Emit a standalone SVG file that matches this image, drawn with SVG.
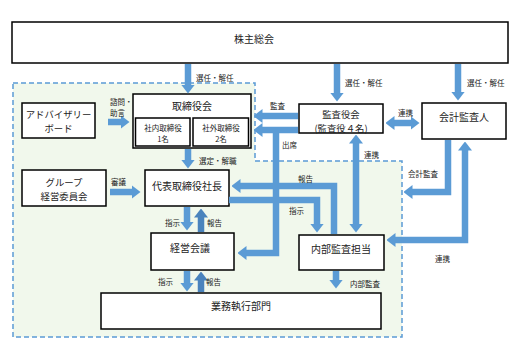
<svg xmlns="http://www.w3.org/2000/svg" width="529" height="353" viewBox="0 0 529 353">
<defs>
<style>
.box{fill:#fff;stroke:#000;stroke-width:1.5}
.t{font-family:"Noto Sans CJK JP","Noto Sans",sans-serif;font-size:10px;fill:#222;text-anchor:middle;dominant-baseline:central}
.m{font-size:9.4px}
.s{font-size:7.5px}
.l{font-family:"Noto Sans CJK JP","Noto Sans",sans-serif;font-size:7.5px;fill:#222;dominant-baseline:central}
.c{fill:none;stroke:#5b9bd5;stroke-width:6.5}
.d{stroke:#4a83bd}
.a{marker-end:url(#h)}
.b{marker-start:url(#h);marker-end:url(#h)}
.ad{marker-end:url(#hd)}
</style>
<marker id="h" viewBox="0 0 9 14" markerWidth="9" markerHeight="14" refX="0.5" refY="7" orient="auto-start-reverse" markerUnits="userSpaceOnUse"><path d="M0,0 L9,7 L0,14 z" fill="#5b9bd5"/></marker>
<marker id="hd" viewBox="0 0 9 14" markerWidth="9" markerHeight="14" refX="0.5" refY="7" orient="auto-start-reverse" markerUnits="userSpaceOnUse"><path d="M0,0 L9,7 L0,14 z" fill="#4a83bd"/></marker>
</defs>
<rect width="529" height="353" fill="#fff"/>
<path id="region" d="M13,83 H255 V161 H402 V337 H13 Z" fill="#f1f8ec" stroke="#5b9bd5" stroke-width="1.5" stroke-dasharray="5,3"/>

<g id="sh"><rect class="box" x="12" y="22" width="496" height="41"/><text class="t" x="254" y="38">株主総会</text></g>
<g id="adv"><rect class="box" x="22" y="103" width="73" height="35"/><text class="t m" x="58.5" y="114">アドバイザリー</text><text class="t m" x="58.5" y="128">ボード</text></g>
<g id="board"><rect class="box" x="133" y="94" width="118" height="54"/><text class="t" x="192" y="105">取締役会</text>
<rect class="box" x="135.5" y="118" width="54.5" height="28"/><text class="t s" x="163" y="127">社内取締役</text><text class="t s" x="163" y="138.5">1名</text>
<rect class="box" x="193" y="118" width="55.5" height="28"/><text class="t s" x="221" y="127">社外取締役</text><text class="t s" x="221" y="138.5">2名</text></g>
<g id="kansayaku"><rect class="box" x="299" y="104" width="84" height="29"/><text class="t m" x="341" y="114">監査役会</text><text class="t m" x="341" y="127.5">(監査役４名)</text></g>
<g id="kaikei"><rect class="box" x="422" y="103" width="84" height="36"/><text class="t" x="464" y="116">会計監査人</text></g>
<g id="group"><rect class="box" x="22" y="170" width="84" height="36"/><text class="t m" x="64" y="182">グループ</text><text class="t m" x="64" y="196">経営委員会</text></g>
<g id="ceo"><rect class="box" x="145" y="170" width="84" height="36"/><text class="t" x="187" y="185">代表取締役社長</text></g>
<g id="keiei"><rect class="box" x="151" y="233" width="83" height="37"/><text class="t" x="190" y="247">経営会議</text></g>
<g id="naibu"><rect class="box" x="299" y="235" width="85" height="35"/><text class="t" x="341" y="248">内部監査担当</text></g>
<g id="gyomu"><rect class="box" x="101" y="293" width="280" height="36"/><text class="t" x="241" y="305">業務執行部門</text></g>

<g id="connectors">
<path class="c a" d="M188,64 V85"/>
<path class="c a" d="M337,64 V93"/>
<path class="c a" d="M458,64 V92"/>
<path class="c a" d="M108,122 H121"/>
<path class="c a" d="M188,149 V160"/>
<path class="c a" d="M110,192 H132"/>
<path class="c a" d="M298,116 H262"/>
<path class="c a" d="M298,130 H262"/>
<path class="c a" d="M276,130 V253 H246"/>
<path class="c a" d="M334,234 V186 H240"/>
<path class="c a" d="M229,200 H317 V224"/>
<path class="c b" d="M356,143 V224"/>
<path class="c b" d="M394,123 H411"/>
<path class="c a" d="M448,140 V192 H412"/>
<path class="c b" d="M465,150 V240 H395"/>
<path class="c a" d="M187,207 V222"/>
<path class="c d ad" d="M201,232 V217"/>
<path class="c a" d="M187,271 V283"/>
<path class="c d ad" d="M201,292 V280"/>
<path class="c a" d="M336,271 V280"/>
</g>

<g id="labels">
<text class="l" x="196" y="77">選任・解任</text>
<text class="l" x="345" y="82">選任・解任</text>
<text class="l" x="467" y="82">選任・解任</text>
<text class="l" x="110" y="101">諮問・</text>
<text class="l" x="110" y="112">助言</text>
<text class="l" x="199" y="160">選定・解職</text>
<text class="l" x="111" y="181">審議</text>
<text class="l" x="270" y="105">監査</text>
<text class="l" x="282" y="144">出席</text>
<text class="l" x="398" y="112">連携</text>
<text class="l" x="364" y="154">連携</text>
<text class="l" x="408" y="173">会計監査</text>
<text class="l" x="298" y="178">報告</text>
<text class="l" x="289" y="210">指示</text>
<text class="l" x="165" y="222">指示</text>
<text class="l" x="207" y="222">報告</text>
<text class="l" x="158" y="281">指示</text>
<text class="l" x="206" y="281">報告</text>
<text class="l" x="350" y="283">内部監査</text>
<text class="l" x="435" y="258">連携</text>
</g>
</svg>
